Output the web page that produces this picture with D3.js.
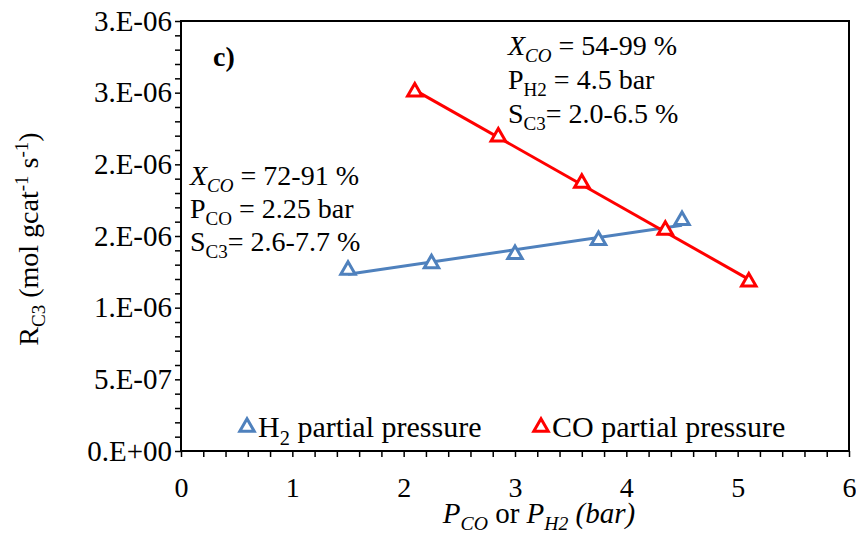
<!DOCTYPE html>
<html>
<head>
<meta charset="utf-8">
<script src="https://cdn.jsdelivr.net/npm/d3@7"></script>
<style>
  body { margin: 0; background: #fff; }
  svg text { font-family: "Liberation Serif", "Times New Roman", serif; fill: #000; }
</style>
</head>
<body>
<div id="chart"></div>
<script>
// H2 partial pressure series (P_CO = 2.25 bar)
var h2Pressure = [1.5, 2.25, 3.0, 3.75, 4.5];
var h2Rate = [1.262e-6, 1.308e-6, 1.372e-6, 1.469e-6, 1.609e-6];

// CO partial pressure series (P_H2 = 4.5 bar)
var coPressure = [2.1, 2.85, 3.6, 4.35, 5.1];
var coRate = [2.506e-6, 2.192e-6, 1.869e-6, 1.541e-6, 1.181e-6];

var xTicks = [0, 1, 2, 3, 4, 5, 6];
var yTicks = [0, 5e-7, 1e-6, 1.5e-6, 2e-6, 2.5e-6, 3e-6];
var yTickLabels = ["0.E+00", "5.E-07", "1.E-06", "2.E-06", "2.E-06", "3.E-06", "3.E-06"];

var width = 856, height = 533;
var margin = {top: 21, right: 7, bottom: 82, left: 181};

var svg = d3.select("#chart")
  .append("svg")
  .attr("width", width)
  .attr("height", height);

var x = d3.scaleLinear().domain([0, 6]).range([margin.left, width - margin.right]);
var y = d3.scaleLinear().domain([0, 3e-6]).range([height - margin.bottom, margin.top]);

// minor ticks
var xMinor = d3.range(0, 6.0001, 0.2);
var yMinor = d3.range(0, 3.00001e-6, 1e-7);

svg.append("g")
  .attr("transform", "translate(0," + y(0) + ")")
  .call(d3.axisBottom(x).tickValues(xMinor).tickSize(6).tickFormat(""))
  .call(function (g) { g.select(".domain").remove(); g.selectAll("line").attr("stroke-width", 1.5); });

svg.append("g")
  .attr("transform", "translate(" + x(0) + ",0)")
  .call(d3.axisLeft(y).tickValues(yMinor).tickSize(6).tickFormat(""))
  .call(function (g) { g.select(".domain").remove(); g.selectAll("line").attr("stroke-width", 1.5); });

// tick labels
svg.append("g")
  .attr("transform", "translate(0," + y(0) + ")")
  .call(d3.axisBottom(x).tickValues(xTicks).tickSize(0).tickPadding(26).tickFormat(d3.format("d")))
  .call(function (g) {
    g.select(".domain").remove();
    g.selectAll("text").attr("font-size", 28).attr("font-family", "Liberation Serif");
  });

svg.append("g")
  .attr("transform", "translate(" + x(0) + ",0)")
  .call(d3.axisLeft(y).tickValues(yTicks).tickSize(0).tickPadding(9)
    .tickFormat(function (d, i) { return yTickLabels[i]; }))
  .call(function (g) {
    g.select(".domain").remove();
    g.selectAll("text").attr("font-size", 29).attr("font-family", "Liberation Serif");
  });

// plot frame
svg.append("rect")
  .attr("x", x(0))
  .attr("y", y(3e-6))
  .attr("width", x(6) - x(0))
  .attr("height", y(0) - y(3e-6))
  .attr("fill", "none")
  .attr("stroke", "#000")
  .attr("stroke-width", 2);

// linear trendline
function trend(xs, ys) {
  var mx = d3.mean(xs), my = d3.mean(ys);
  var sxy = d3.sum(xs, function (v, i) { return (v - mx) * (ys[i] - my); });
  var sxx = d3.sum(xs, function (v) { return (v - mx) * (v - mx); });
  var b = sxy / sxx, a = my - b * mx;
  var x0 = d3.min(xs), x1 = d3.max(xs);
  return [[x0, a + b * x0], [x1, a + b * x1]];
}

var line = d3.line()
  .x(function (d) { return x(d[0]); })
  .y(function (d) { return y(d[1]); });

var tri = d3.symbol().type(d3.symbolTriangle).size(90);

function drawSeries(xs, ys, color) {
  svg.append("path")
    .attr("d", line(trend(xs, ys)))
    .attr("fill", "none")
    .attr("stroke", color)
    .attr("stroke-width", 3);

  svg.selectAll(null)
    .data(xs)
    .enter()
    .append("path")
    .attr("d", tri)
    .attr("transform", function (d, i) { return "translate(" + x(d) + "," + y(ys[i]) + ")"; })
    .attr("fill", "#fff")
    .attr("stroke", color)
    .attr("stroke-width", 3);
}

drawSeries(h2Pressure, h2Rate, "#4f81bd");
drawSeries(coPressure, coRate, "#ff0000");

// multi-part text helper: parts = [text, style] where style may be "sub", "sup", "i"
function richText(px, py, parts, size, anchor) {
  var t = svg.append("text")
    .attr("x", px)
    .attr("y", py)
    .attr("font-size", size)
    .attr("text-anchor", anchor || "start");
  var shift = 0;
  parts.forEach(function (p) {
    var s = t.append("tspan").text(p[0]);
    var target = 0;
    if (p[1] && p[1].indexOf("sub") >= 0) { target = size * 0.25; s.attr("font-size", size * 0.68); }
    if (p[1] && p[1].indexOf("sup") >= 0) { target = -size * 0.35; s.attr("font-size", size * 0.68); }
    if (p[1] && p[1].indexOf("i") === 0) s.attr("font-style", "italic");
    if (target !== shift) { s.attr("dy", target - shift); shift = target; }
  });
  return t;
}

// panel label
svg.append("text")
  .attr("x", 213)
  .attr("y", 66)
  .attr("font-size", 28)
  .attr("font-weight", "bold")
  .text("c)");

// annotations
richText(190, 185, [["X", "i"], ["CO", "i sub"], [" = 72-91 %"]], 28);
richText(190, 218, [["P"], ["CO", "sub"], [" = 2.25 bar"]], 28);
richText(190, 251, [["S"], ["C3", "sub"], ["= 2.6-7.7 %"]], 28);

richText(508, 55, [["X", "i"], ["CO", "i sub"], [" = 54-99 %"]], 28);
richText(508, 89, [["P"], ["H2", "sub"], [" = 4.5 bar"]], 28);
richText(508, 123, [["S"], ["C3", "sub"], ["= 2.0-6.5 %"]], 28);

// legend
var legend = [
  {label: [["H"], ["2", "sub"], [" partial pressure"]], color: "#4f81bd", x: 247},
  {label: [["CO partial pressure"]], color: "#ff0000", x: 541}
];
legend.forEach(function (l) {
  svg.append("path")
    .attr("d", tri)
    .attr("transform", "translate(" + l.x + ",427)")
    .attr("fill", "#fff")
    .attr("stroke", l.color)
    .attr("stroke-width", 3);
  richText(l.x + 11, 437, l.label, 30);
});

// axis titles
richText(539, 523, [["P", "i"], ["CO", "i sub"], [" or "], ["P", "i"], ["H2", "i sub"], [" (bar)", "i"]], 29, "middle");

var yTitle = richText(0, 0, [["R"], ["C3", "sub"], [" (mol gcat"], ["-1", "sup"], [" s"], ["-1", "sup"], [")"]], 28, "middle");
yTitle.attr("transform", "translate(38," + ((y(0) + y(3e-6)) / 2 + 3) + ") rotate(-90)");
</script>
</body>
</html>
